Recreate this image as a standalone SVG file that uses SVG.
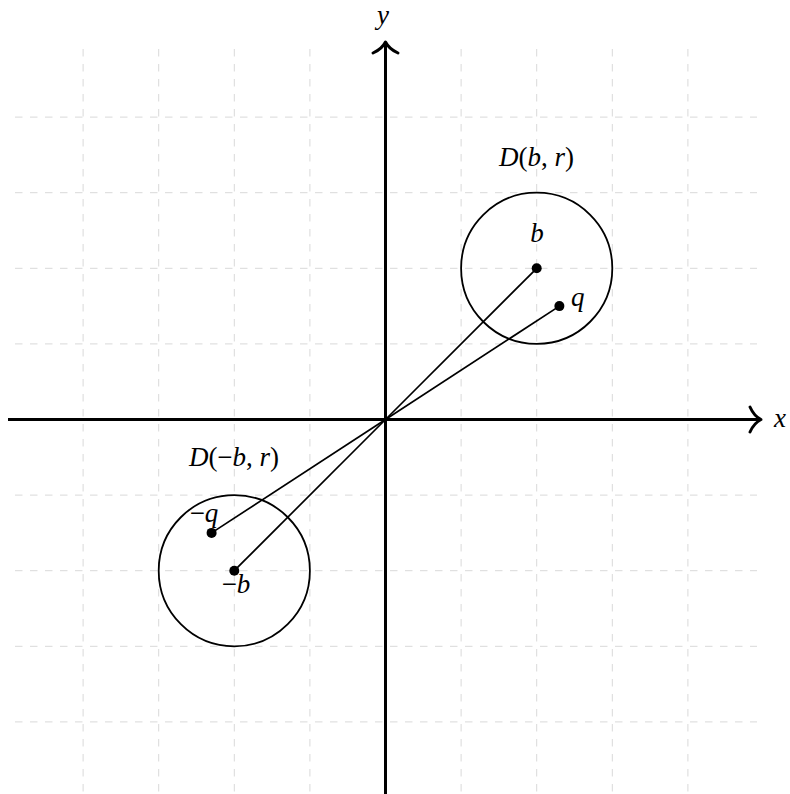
<svg xmlns="http://www.w3.org/2000/svg" width="790" height="794" viewBox="0 0 790 794">
<style>
.grid{stroke:#d9d9d9;stroke-width:1;stroke-dasharray:7.5 7.5;fill:none}
.axis{stroke:#000;stroke-width:3;fill:none}
.tip{stroke:#000;stroke-width:3;fill:none;stroke-linecap:round;stroke-linejoin:round}
.seg{stroke:#000;stroke-width:1.7;fill:none}
.disk{stroke:#000;stroke-width:1.8;fill:none}
.dot{fill:#000}
text{font-family:"Liberation Serif","DejaVu Serif",serif;font-size:27px;fill:#000}
.it{font-style:italic}
</style>
<rect width="790" height="794" fill="#fff"/>
<g id="grid">
<path class="grid" d="M83.1,49V794M158.7,49V794M234.3,49V794M309.9,49V794M461.1,49V794M536.7,49V794M612.3,49V794M687.9,49V794"/>
<path class="grid" d="M15,117.1H757M15,192.7H757M15,268.3H757M15,343.9H757M15,495.1H757M15,570.7H757M15,646.3H757M15,721.9H757"/>
</g>
<g id="axes">
<path class="axis" d="M8,419.5H760"/>
<path class="tip" d="M750,407Q754,416 761,419.5Q754,423 750,432"/>
<path class="axis" d="M385.5,794V44"/>
<path class="tip" d="M373,53Q382,49 385.5,42Q389,49 398,53"/>
<text id="xlabel" x="774" y="427" class="it">x</text>
<text id="ylabel" x="377" y="24" class="it">y</text>
</g>
<g id="connectors">
<line class="seg" x1="385.5" y1="419.5" x2="536.7" y2="268.3"/>
<line class="seg" x1="385.5" y1="419.5" x2="559.4" y2="306.1"/>
<line class="seg" x1="385.5" y1="419.5" x2="234.3" y2="570.7"/>
<line class="seg" x1="385.5" y1="419.5" x2="211.6" y2="532.9"/>
</g>
<g id="disk-b">
<circle class="disk" cx="536.7" cy="268.3" r="75.6"/>
<text x="536.5" y="166" text-anchor="middle"><tspan class="it">D</tspan>(<tspan class="it">b</tspan>, <tspan class="it">r</tspan>)</text>
</g>
<g id="node-b">
<circle class="dot" cx="536.7" cy="268.3" r="5"/>
<text x="537" y="242" text-anchor="middle" class="it">b</text>
</g>
<g id="node-q">
<circle class="dot" cx="559.4" cy="306.1" r="5"/>
<text x="571" y="306" class="it">q</text>
</g>
<g id="disk-minus-b">
<circle class="disk" cx="234.3" cy="570.7" r="75.6"/>
<text x="234" y="466" text-anchor="middle"><tspan class="it">D</tspan>(−<tspan class="it">b</tspan>, <tspan class="it">r</tspan>)</text>
</g>
<g id="node-minus-q">
<circle class="dot" cx="211.6" cy="532.9" r="5"/>
<text x="204" y="522" text-anchor="middle">−<tspan class="it">q</tspan></text>
</g>
<g id="node-minus-b">
<circle class="dot" cx="234.3" cy="570.7" r="5"/>
<text x="236" y="593" text-anchor="middle">−<tspan class="it">b</tspan></text>
</g>
</svg>
